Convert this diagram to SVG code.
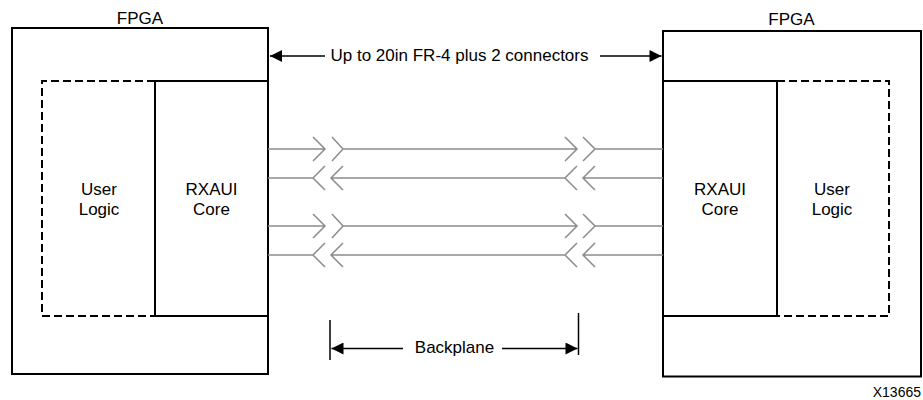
<svg xmlns="http://www.w3.org/2000/svg" width="923" height="400" viewBox="0 0 923 400">
<defs>
<style>
text{font-family:"Liberation Sans",Arial,sans-serif;font-size:17px;fill:#000}
.box{fill:none;stroke:#000;stroke-width:2}
.dash{fill:none;stroke:#000;stroke-width:2;stroke-dasharray:8 4}
.sig{fill:none;stroke:#8c8c8c;stroke-width:1.5}
.dim{fill:none;stroke:#000;stroke-width:1.5}
</style>
<marker id="ah" viewBox="0 0 10 10" refX="10" refY="5" markerWidth="17" markerHeight="12" markerUnits="userSpaceOnUse" orient="auto-start-reverse">
<path d="M0,0 L10,5 L0,10 z" fill="#000"/>
</marker>
</defs>
<rect width="923" height="400" fill="#fff"/>

<g id="fpga-left">
<rect class="box" x="12" y="28" width="256" height="346"/>
<text x="140" y="24" text-anchor="middle">FPGA</text>
</g>
<g id="user-logic-left">
<path class="dash" d="M155,81 H42 V316 H155"/>
<text x="99" y="195" text-anchor="middle">User</text>
<text x="99" y="214.5" text-anchor="middle">Logic</text>
</g>
<g id="rxaui-left">
<rect class="box" x="155" y="81" width="113" height="235"/>
<text x="211.5" y="195" text-anchor="middle">RXAUI</text>
<text x="211.5" y="214.5" text-anchor="middle">Core</text>
</g>

<g id="fpga-right">
<rect class="box" x="663" y="31" width="258" height="345.5"/>
<text x="791.5" y="24.5" text-anchor="middle">FPGA</text>
</g>
<g id="rxaui-right">
<rect class="box" x="663" y="81" width="114" height="235"/>
<text x="720" y="195" text-anchor="middle">RXAUI</text>
<text x="720" y="214.5" text-anchor="middle">Core</text>
</g>
<g id="user-logic-right">
<path class="dash" d="M777,81 H889 V316 H777"/>
<text x="832" y="195" text-anchor="middle">User</text>
<text x="832" y="214.5" text-anchor="middle">Logic</text>
</g>

<g id="connectors">
<g id="lane-tx1">
<path class="sig" d="M268,149 H325 M313,137 L325,149 L313,161 M332,137 L343,149 L332,161 M343,149 H577 M565,137 L577,149 L565,161 M583,137 L595,149 L583,161 M595,149 H663"/>
</g>
<g id="lane-rx1">
<path class="sig" d="M268,178 H313 M325,166 L313,178 L325,190 M343,166 L331,178 L343,190 M331,178 H565 M577,166 L565,178 L577,190 M595,166 L583,178 L595,190 M583,178 H663"/>
</g>
<g id="lane-tx2">
<path class="sig" d="M268,226 H325 M313,214 L325,226 L313,238 M332,214 L343,226 L332,238 M343,226 H577 M565,214 L577,226 L565,238 M583,214 L595,226 L583,238 M595,226 H663"/>
</g>
<g id="lane-rx2">
<path class="sig" d="M268,255 H313 M325,243 L313,255 L325,267 M343,243 L331,255 L343,267 M331,255 H565 M577,243 L565,255 L577,267 M595,243 L583,255 L595,267 M583,255 H663"/>
</g>

<g id="dim-top">
<line class="dim" x1="325" y1="56" x2="270" y2="56" marker-end="url(#ah)"/>
<line class="dim" x1="600" y1="56" x2="661.5" y2="56" marker-end="url(#ah)"/>
<text x="459.5" y="61" text-anchor="middle">Up to 20in FR-4 plus 2 connectors</text>
</g>
<g id="dim-backplane">
<line class="dim" x1="330" y1="320" x2="330" y2="360"/>
<line class="dim" x1="578.5" y1="313" x2="578.5" y2="355"/>
<line class="dim" x1="403" y1="348.5" x2="331.5" y2="348.5" marker-end="url(#ah)"/>
<line class="dim" x1="502" y1="348.5" x2="577.5" y2="348.5" marker-end="url(#ah)"/>
<text x="454.5" y="353" text-anchor="middle">Backplane</text>
</g>
</g>

<text x="921" y="397" text-anchor="end" style="font-size:14px">X13665</text>
</svg>
